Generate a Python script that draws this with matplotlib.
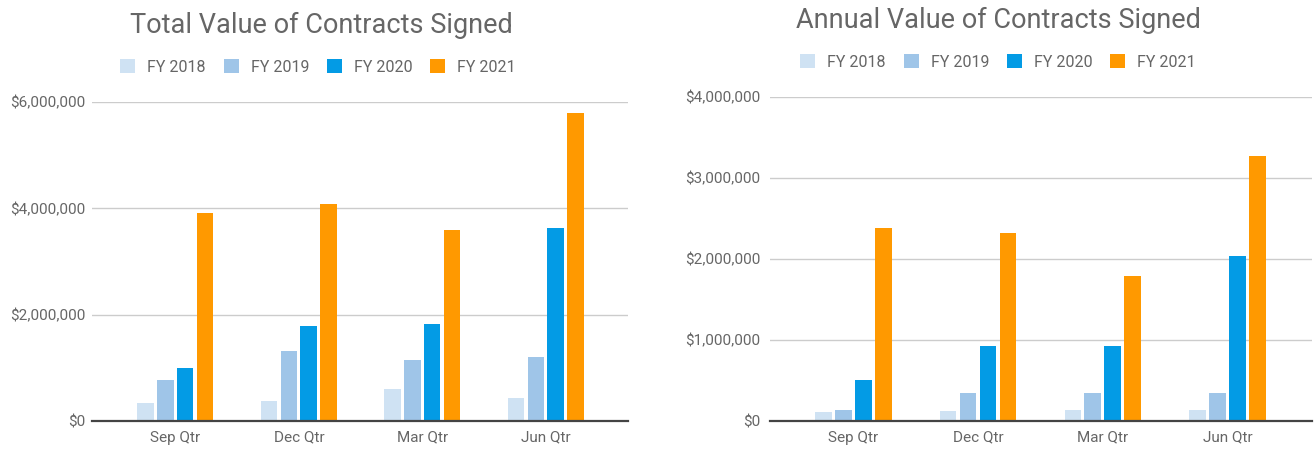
import matplotlib
matplotlib.use("Agg")
import matplotlib.pyplot as plt
import numpy as np
from matplotlib.patches import Patch
from matplotlib.ticker import FuncFormatter

plt.rcParams['font.family'] = ['Roboto', 'DejaVu Sans']

quarters = ["Sep Qtr", "Dec Qtr", "Mar Qtr", "Jun Qtr"]
series = ["FY 2018", "FY 2019", "FY 2020", "FY 2021"]
colors = ["#cfe2f3", "#9fc5e8", "#039be5", "#ff9900"]

total_2018 = [330000, 380000, 610000, 430000]
total_2019 = [780000, 1320000, 1150000, 1200000]
total_2020 = [1000000, 1790000, 1820000, 3630000]
total_2021 = [3920000, 4090000, 3600000, 5800000]

annual_2018 = [107000, 120000, 140000, 140000]
annual_2019 = [140000, 340000, 340000, 340000]
annual_2020 = [510000, 930000, 930000, 2040000]
annual_2021 = [2380000, 2320000, 1790000, 3270000]

total_title = "Total Value of Contracts Signed"
annual_title = "Annual Value of Contracts Signed"
total_ticks = [0, 2000000, 4000000, 6000000]
annual_ticks = [0, 1000000, 2000000, 3000000, 4000000]

W, H = 1314, 449
fig = plt.figure(figsize=(W / 100, H / 100), dpi=100)
TXT = "#666666"

def px_axes(x0, x1, ytop, ybot):
    return fig.add_axes([x0 / W, 1 - ybot / H, (x1 - x0) / W, (ybot - ytop) / H])

def draw(ax, data, ticks, xlim, ypad):
    x = np.arange(len(quarters))
    step = 0.16
    width = 0.134
    for i, (vals, c) in enumerate(zip(data, colors)):
        ax.bar(x + (i - 1.5) * step, vals, width=width, color=c, zorder=3)
    ax.set_xlim(*xlim)
    ax.set_ylim(0, ticks[-1])
    ax.set_yticks(ticks)
    ax.yaxis.set_major_formatter(FuncFormatter(lambda v, p: f"${v:,.0f}"))
    ax.set_xticks(x)
    ax.set_xticklabels(quarters)
    ax.grid(axis='y', color='#cccccc', linewidth=1, zorder=0)
    ax.axhline(0, color='#444444', linewidth=1.6, zorder=4, clip_on=False)
    for s in ax.spines.values():
        s.set_visible(False)
    ax.tick_params(length=0, labelsize=11, labelcolor=TXT)
    ax.tick_params(axis='y', pad=ypad)
    ax.tick_params(axis='x', pad=7)

ax1 = px_axes(92, 628, 102, 421)
draw(ax1, [total_2018, total_2019, total_2020, total_2021], total_ticks, (-0.675, 3.666), 5)
ax2 = px_axes(770, 1312, 97, 421)
draw(ax2, [annual_2018, annual_2019, annual_2020, annual_2021], annual_ticks, (-0.667, 3.676), 7)

fig.text(321 / W, 1 - 33 / H, total_title, ha='center', va='baseline', fontsize=19.5, color=TXT)
fig.text(998 / W, 1 - 28 / H, annual_title, ha='center', va='baseline', fontsize=19.5, color=TXT)

handles = [Patch(facecolor=c, edgecolor='none') for c in colors]
for cx, cy in [(318, 67), (998, 62)]:
    fig.legend(handles, series, loc='center', bbox_to_anchor=(cx / W, 1 - cy / H), ncol=4,
               frameon=False, fontsize=11.5, labelcolor=TXT, handlelength=0.95, handleheight=0.95,
               columnspacing=1.1, handletextpad=0.75, borderpad=0, borderaxespad=0)

fig.savefig("out.png", dpi=100, facecolor='white')
